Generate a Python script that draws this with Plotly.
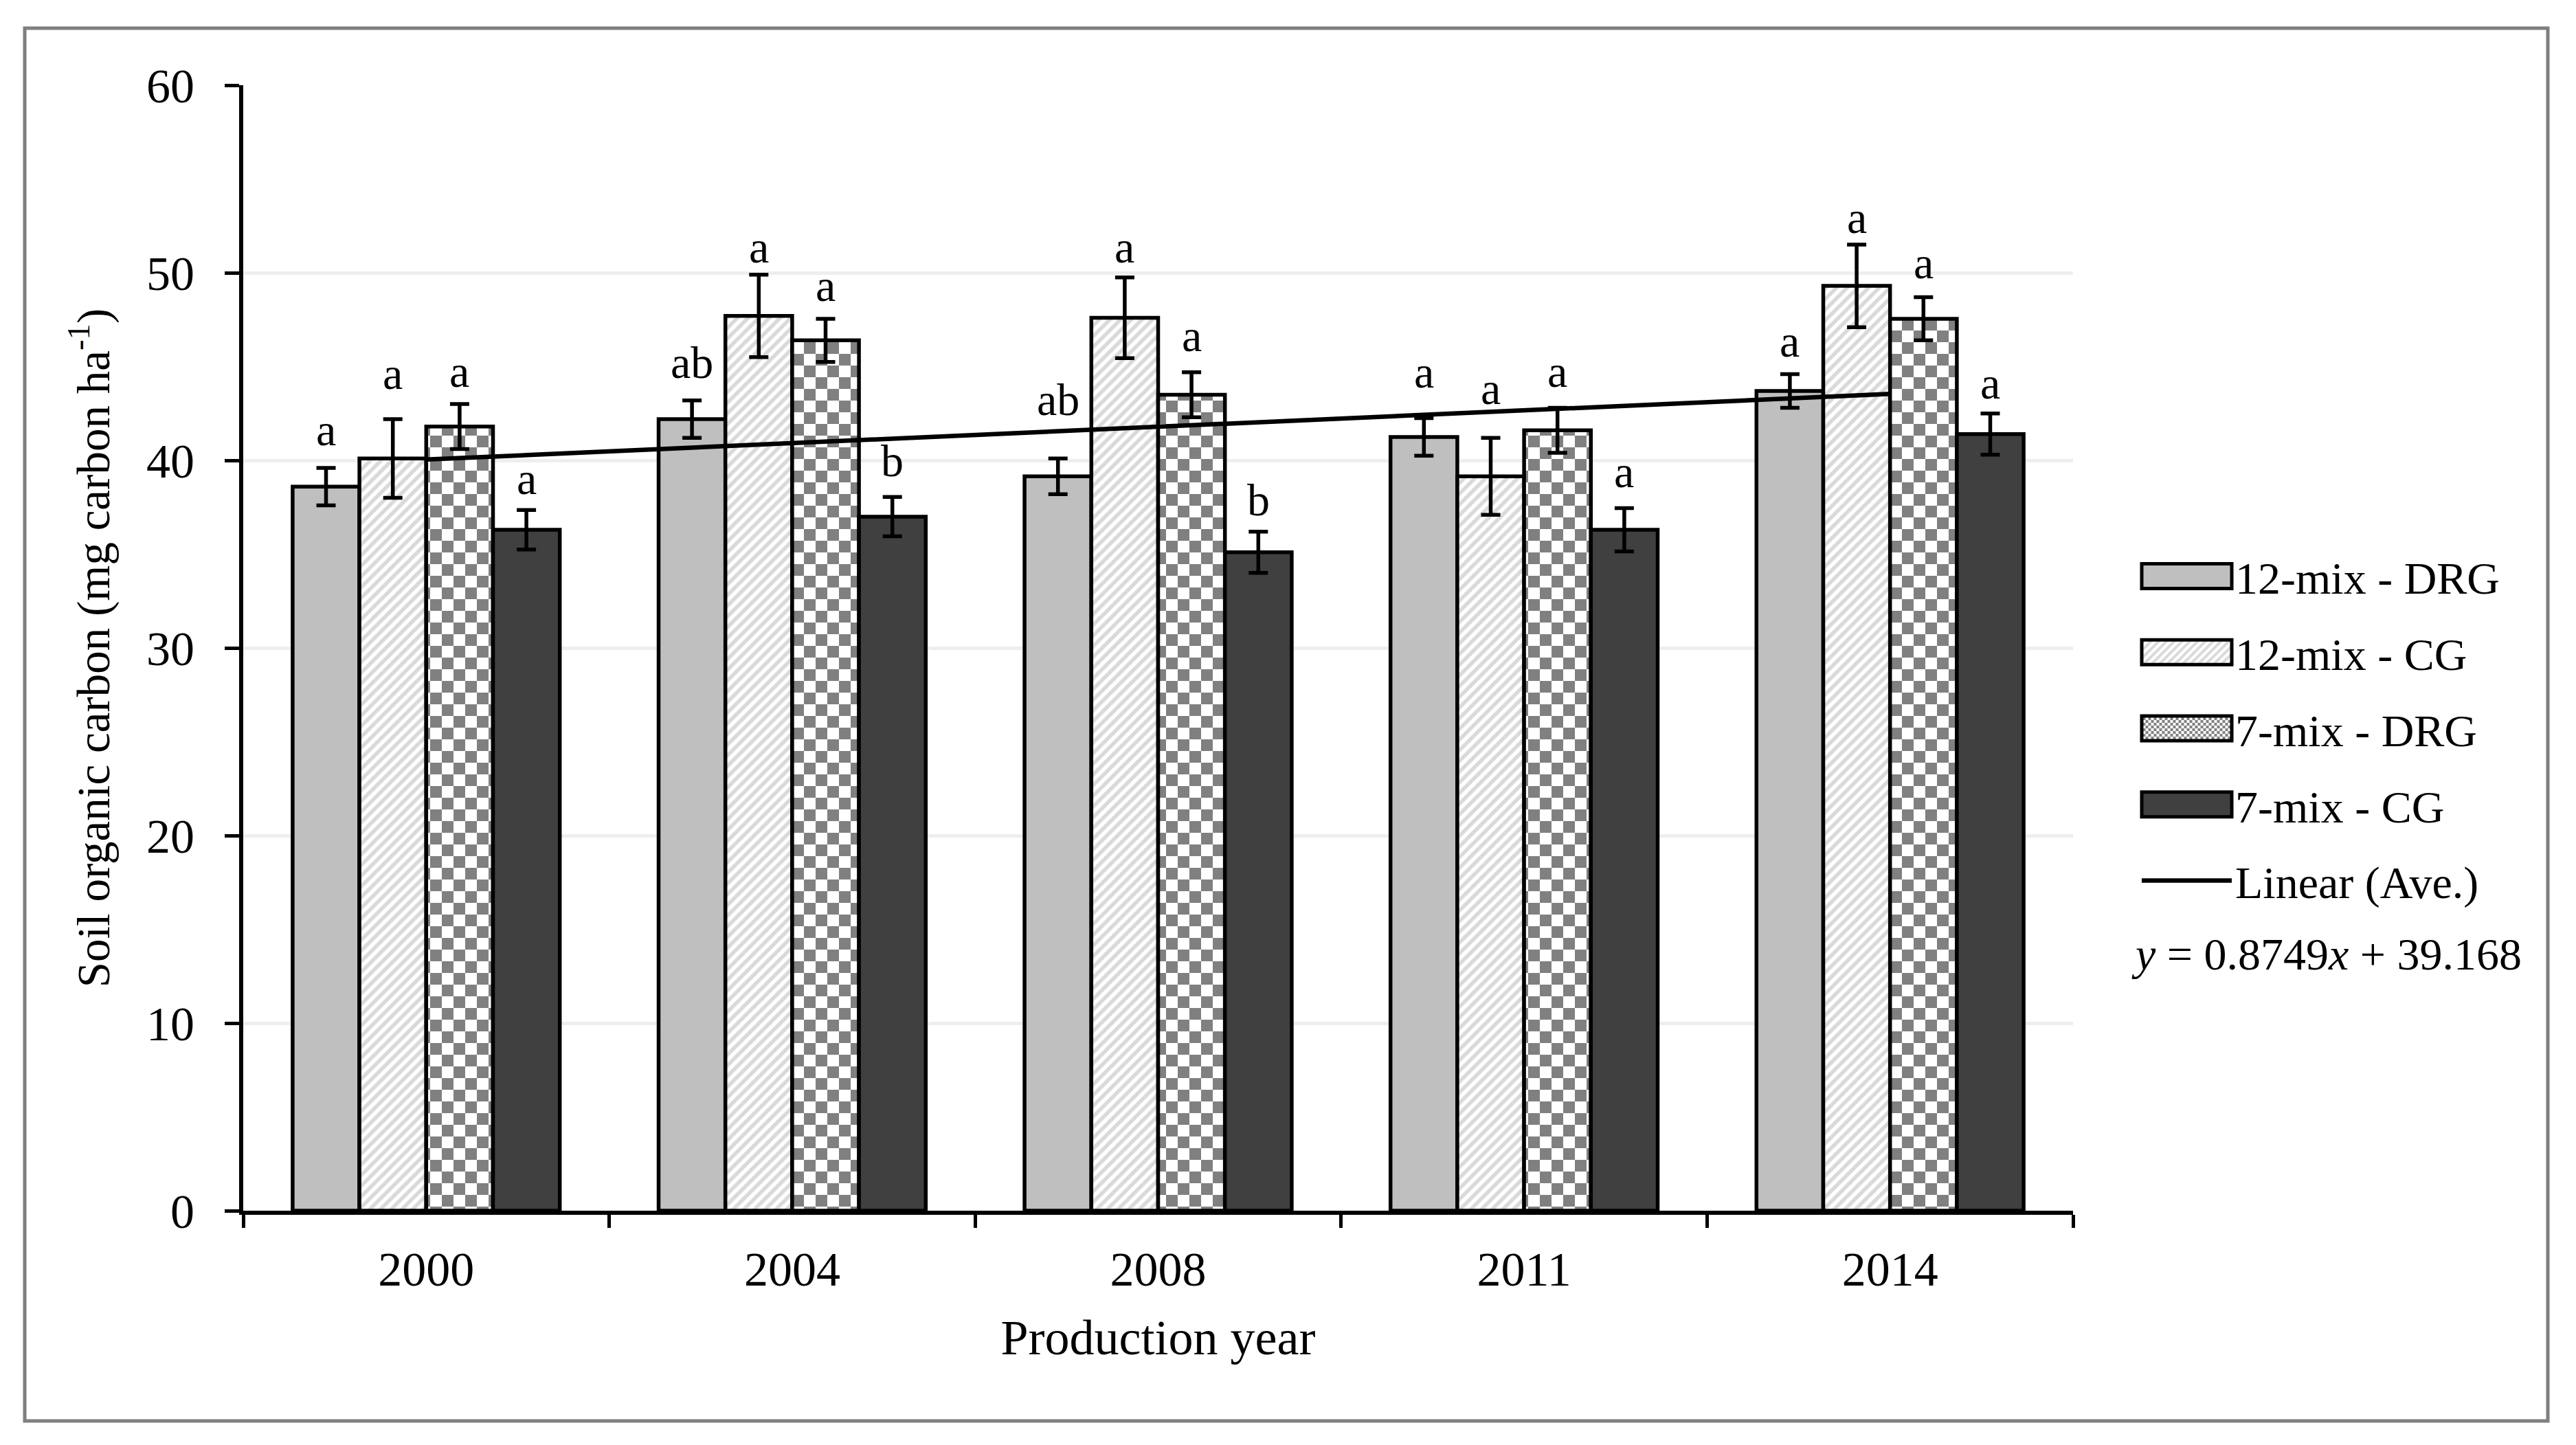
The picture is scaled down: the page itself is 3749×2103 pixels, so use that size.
import plotly.graph_objects as go

# ---------------- data ----------------
years = ["2000", "2004", "2008", "2011", "2014"]
series_names = ["12-mix - DRG", "12-mix - CG", "7-mix - DRG", "7-mix - CG"]

drg12 = [38.6, 42.2, 39.15, 41.25, 43.7]
drg12_err = [1.0, 1.0, 0.95, 1.0, 0.9]
cg12 = [40.1, 47.7, 47.6, 39.15, 49.3]
cg12_err = [2.1, 2.2, 2.15, 2.05, 2.2]
drg7 = [41.8, 46.4, 43.5, 41.6, 47.55]
drg7_err = [1.2, 1.15, 1.2, 1.2, 1.15]
cg7 = [36.3, 37.0, 35.1, 36.3, 41.4]
cg7_err = [1.05, 1.05, 1.1, 1.15, 1.1]

letters_drg12 = ["a", "ab", "ab", "a", "a"]
letters_cg12 = ["a", "a", "a", "a", "a"]
letters_drg7 = ["a", "a", "a", "a", "a"]
letters_cg7 = ["a", "b", "b", "a", "a"]

trend_label = "Linear (Ave.)"
trend_slope = 0.8749
trend_intercept = 39.168

# ---------------- styling ----------------
W, H = 3749, 2103
PL, PR, PT, PB = 354, 3017, 124, 1762   # plot area in pixels
FONT = "Liberation Serif"
BARGAP = 0.27

values = [drg12, cg12, drg7, cg7]
errors = [drg12_err, cg12_err, drg7_err, cg7_err]
letters = [letters_drg12, letters_cg12, letters_drg7, letters_cg7]
# vertical gap (px) between the top of each error bar and its letter
letter_shift = [
    [55, 55, 86, 67, 48],
    [66, 40, 44, 72, 40],
    [48, 48, 53, 53, 50],
    [46, 53, 46, 53, 44],
]

OUT = dict(color="black", width=5.5)
markers = [
    dict(color="#bfbfbf", line=OUT),
    dict(color="white", line=OUT,
         pattern=dict(shape="/", fgcolor="#b4b4b4", bgcolor="white", size=11, solidity=0.5)),
    dict(color="white", line=OUT,
         pattern=dict(shape=".", fgcolor="#808080", bgcolor="white", size=34, solidity=0.5)),
    dict(color="#404040", line=OUT),
]

fig = go.Figure()
for k in range(4):
    fig.add_trace(go.Bar(
        x=years, y=values[k], name=series_names[k], legendgroup=f"g{k}",
        marker=markers[k],
        error_y=dict(type="data", array=errors[k], color="black", thickness=5.5, width=14),
    ))

trend_y = [trend_slope * (i + 1) + trend_intercept for i in range(len(years))]
fig.add_trace(go.Scatter(
    x=years, y=trend_y, mode="lines", name=trend_label, legendgroup="g4",
    line=dict(color="black", width=6.5),
))

# significance letters
bw = (1 - BARGAP) / 4
annotations = []
for k in range(4):
    for i in range(len(years)):
        annotations.append(dict(
            x=i + (k - 1.5) * bw, y=values[k][i] + errors[k][i],
            xref="x", yref="y", text=letters[k][i], showarrow=False,
            yanchor="middle", yshift=letter_shift[k][i],
            font=dict(family=FONT, size=66, color="black"),
        ))

pw, ph = PR - PL, PB - PT
def px_to_paper_x(px):
    return (px - PL) / pw
def px_to_paper_y(py):
    return (PB - py) / ph

annotations.append(dict(
    x=px_to_paper_x(3100), y=px_to_paper_y(1388), xref="paper", yref="paper",
    xanchor="left", yanchor="middle", showarrow=False,
    text=f"<i>y</i> = {trend_slope}<i>x</i> + {trend_intercept}",
    font=dict(family=FONT, size=66, color="black"),
))

ITEMW = 131
fig.update_layout(
    width=W, height=H,
    margin=dict(l=PL, r=W - PR, t=PT, b=H - PB, pad=0),
    paper_bgcolor="white", plot_bgcolor="white",
    barmode="group", bargap=BARGAP, bargroupgap=0,
    font=dict(family=FONT, size=66, color="black"),
    showlegend=True,
    legend=dict(
        x=px_to_paper_x(3112), y=px_to_paper_y(789), xanchor="left", yanchor="top",
        font=dict(family=FONT, size=66, color="black"),
        itemwidth=ITEMW, tracegroupgap=22, traceorder="grouped",
        bgcolor="rgba(0,0,0,0)", borderwidth=0,
    ),
    xaxis=dict(
        type="category", range=[-0.5, 4.5],
        showline=True, linecolor="black", linewidth=6,
        ticks="outside", tickson="boundaries", ticklen=19, tickwidth=5, tickcolor="black",
        tickfont=dict(family=FONT, size=70, color="black"),
        ticklabelstandoff=19,
        showgrid=False, zeroline=False,
        title=dict(text="Production year", font=dict(family=FONT, size=72, color="black"), standoff=38),
    ),
    yaxis=dict(
        range=[0, 60], dtick=10, tick0=0,
        showline=True, linecolor="black", linewidth=6,
        ticks="outside", ticklen=21, tickwidth=5, tickcolor="black",
        tickfont=dict(family=FONT, size=70, color="black"),
        ticklabelstandoff=30,
        showgrid=True, gridcolor="#eeeeee", gridwidth=5, zeroline=False,
        title=dict(text="Soil organic carbon (mg carbon ha<sup>-1</sup>)",
                   font=dict(family=FONT, size=67, color="black"), standoff=34),
    ),
    annotations=annotations,
    shapes=[dict(
        type="rect", xref="paper", yref="paper", layer="below",
        x0=px_to_paper_x(36), x1=px_to_paper_x(3708),
        y0=px_to_paper_y(2068), y1=px_to_paper_y(41),
        line=dict(color="#7f7f7f", width=5), fillcolor="rgba(0,0,0,0)",
    )],
)

center = (ITEMW + 10) / 2.0
post_js = """
document.body.style.margin = '0';
document.body.style.padding = '0';
document.body.style.overflow = 'hidden';
var gd = document.getElementById('{plot_id}');
var ns = 'http://www.w3.org/2000/svg';
var LSTART = %(lstart)s;
function mk(tag, attrs){ var e = document.createElementNS(ns, tag); for (var k in attrs) e.setAttribute(k, attrs[k]); return e; }
function fixAll(){
  document.querySelectorAll('pattern').forEach(function(p){
    if (!p.querySelector('circle')) return;
    var w = parseFloat(p.getAttribute('width')), h = parseFloat(p.getAttribute('height'));
    while (p.firstChild) p.removeChild(p.firstChild);
    p.appendChild(mk('rect', {x:0, y:0, width:w, height:h, fill:'#ffffff'}));
    p.appendChild(mk('rect', {x:0, y:0, width:w/2, height:h/2, fill:'#808080'}));
    p.appendChild(mk('rect', {x:w/2, y:h/2, width:w/2, height:h/2, fill:'#808080'}));
  });
  gd.querySelectorAll('.legend .legendpoints path').forEach(function(p){
    p.setAttribute('d', 'M65.5,18H-65.5V-18H65.5Z');
    p.style.strokeWidth = '5px';
    p.style.stroke = '#000000';
  });
  gd.querySelectorAll('.legend .legendlines path').forEach(function(p){
    p.setAttribute('d', 'M' + LSTART + ',0h131');
    p.style.strokeWidth = '6.5px';
  });
}
fixAll();
if (gd.on) gd.on('plotly_afterplot', function(){ setTimeout(fixAll, 0); });
setTimeout(fixAll, 50);
setTimeout(fixAll, 300);
setTimeout(fixAll, 1000);
""" % {"lstart": center - 65.5}

fig.write_html("out.html", post_script=post_js,
               config={"displayModeBar": False, "responsive": False})
